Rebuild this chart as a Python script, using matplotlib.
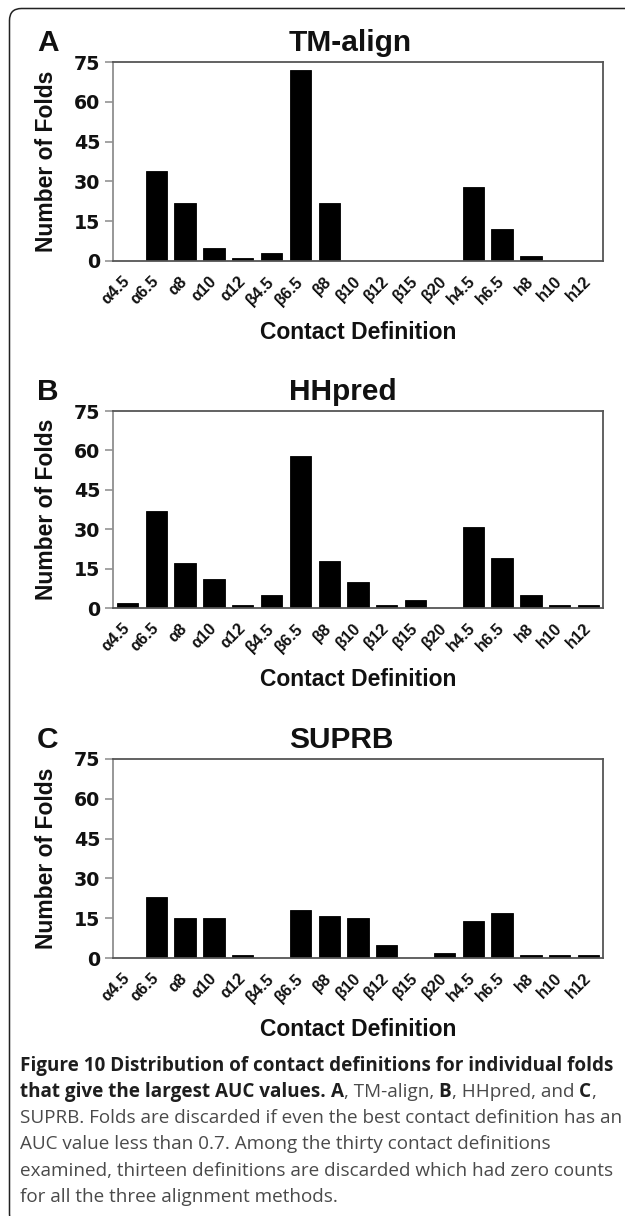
import matplotlib
matplotlib.use("Agg")
import matplotlib.pyplot as plt
import matplotlib.transforms as mtransforms
from matplotlib.patches import FancyBboxPatch
import numpy as np

# ---------------- data ----------------
categories = ["α4.5", "α6.5", "α8", "α10", "α12", "β4.5", "β6.5", "β8", "β10",
              "β12", "β15", "β20", "h4.5", "h6.5", "h8", "h10", "h12"]
tmalign = [0, 34, 22, 5, 1, 3, 72, 22, 0, 0, 0, 0, 28, 12, 2, 0, 0]
hhpred = [2, 37, 17, 11, 1, 5, 58, 18, 10, 1, 3, 0, 31, 19, 5, 1, 1]
suprb = [0, 23, 15, 15, 1, 0, 18, 16, 15, 5, 0, 2, 14, 17, 1, 1, 1]
panel_titles = ["TM-align", "HHpred", "SUPRB"]
panel_letters = ["A", "B", "C"]
yticks = [0, 15, 30, 45, 60, 75]
ylabel = "Number of Folds"
xlabel = "Contact Definition"

caption_line1 = "Figure 10 Distribution of contact definitions for individual folds"
caption_line2 = [("that give the largest AUC values.", "bold"), (" ", "sp"),
                 ("A", "bold"), (", TM-align,", "normal"), (" ", "sp"),
                 ("B", "bold"), (", HHpred, and", "normal"), (" ", "sp"),
                 ("C", "bold"), (",", "normal")]
caption_rest = ["SUPRB. Folds are discarded if even the best contact definition has an",
                "AUC value less than 0.7. Among the thirty contact definitions",
                "examined, thirteen definitions are discarded which had zero counts",
                "for all the three alignment methods."]

# ---------------- layout ----------------
W, H = 625, 1216
DPI = 100
fig = plt.figure(figsize=(W / DPI, H / DPI), dpi=DPI)
fig.patch.set_facecolor("white")

px = mtransforms.Affine2D().scale(1.0 / W, 1.0 / H) + fig.transFigure  # pixel coords, y up

def fy(y_top):
    return H - y_top

# rounded outer frame (continues past the right and bottom edges)
frame = FancyBboxPatch((9.5, fy(1226)), 700, 1226 - 8.5,
                       boxstyle="round,pad=0,rounding_size=12",
                       transform=px, facecolor="none", edgecolor="#222222",
                       linewidth=1.1, zorder=0)
fig.patches.append(frame)

ax_left, ax_right = 113, 603
tops = [62, 411, 759]
bottoms = [261, 608, 958]
series = [tmalign, hhpred, suprb]

title_font = dict(family="Liberation Sans", weight="bold", size=21.5)
label_font = dict(family="Liberation Sans", weight="bold", size=16.5)

x = np.arange(len(categories))
for i in range(3):
    t, b = tops[i], bottoms[i]
    ax = fig.add_axes([ax_left / W, 1 - b / H, (ax_right - ax_left) / W, (b - t) / H])
    ax.bar(x, series[i], width=0.74, color="black", edgecolor="black", linewidth=0.6)
    ax.set_xlim(-0.5, len(categories) - 0.5)
    ax.set_ylim(0, 75)
    ax.set_yticks(yticks)
    ax.set_yticklabels([str(v) for v in yticks], family="DejaVu Sans",
                       weight="bold", size=13.7, color="#111111")
    ax.set_xticks(x)
    ax.set_xticklabels(categories, rotation=45, ha="right", va="center",
                       rotation_mode="anchor", family="Liberation Sans",
                       weight="bold", size=11.8, color="#111111")
    ax.tick_params(axis="x", length=0, pad=13.0)
    ax.tick_params(axis="y", length=5.8, width=1.1, pad=3.4, color="#8a8a8a")
    for side in ["top", "right", "bottom"]:
        ax.spines[side].set_color("#555555")
        ax.spines[side].set_linewidth(1.3)
    ax.spines["left"].set_color("#8f8f8f")
    ax.spines["left"].set_linewidth(1.3)

    ax.set_ylabel(ylabel, **label_font, color="#111111")
    ax.yaxis.set_label_coords((47 - ax_left) / (ax_right - ax_left), 0.5)
    ax.yaxis.label.set_va("center")

    ax.set_xlabel(xlabel, **label_font, color="#111111")
    ax.xaxis.set_label_coords(0.5, -78.0 / (b - t))
    ax.xaxis.label.set_va("baseline")

    # title left-aligned like the reference
    fig.text(289, fy(t - 11), panel_titles[i], transform=px, ha="left",
             va="baseline", color="#111111", **title_font)
    fig.text(37, fy(t - 11), panel_letters[i], transform=px, ha="left",
             va="baseline", color="#111111", **title_font)

# ---------------- caption ----------------
cap_size = 13.6
cap_x = 20
bold_col = "#1e1e1e"
reg_col = "#4a4a4a"
baselines = [1070.5, 1096.8, 1123, 1149.3, 1175.6, 1202]

renderer = fig.canvas.get_renderer()

def text_width(s, weight):
    tt = fig.text(0, 0, s, family="Open Sans", weight=weight, size=cap_size)
    w = tt.get_window_extent(renderer=renderer).width
    tt.remove()
    return w

space_w = text_width("a a", "normal") - text_width("aa", "normal")

fig.text(cap_x, fy(baselines[0]), caption_line1, transform=px, family="Open Sans",
         weight="bold", size=cap_size, color=bold_col, ha="left", va="baseline")

cursor = cap_x
for s, kind in caption_line2:
    if kind == "sp":
        cursor += space_w
        continue
    fig.text(cursor, fy(baselines[1]), s, transform=px, family="Open Sans",
             weight=kind, size=cap_size, color=bold_col if kind == "bold" else reg_col,
             ha="left", va="baseline")
    cursor += text_width(s, kind)

for j, line in enumerate(caption_rest):
    fig.text(cap_x, fy(baselines[2 + j]), line, transform=px, family="Open Sans",
             weight="normal", size=cap_size, color=reg_col, ha="left", va="baseline")

fig.savefig("out.png", dpi=DPI)
